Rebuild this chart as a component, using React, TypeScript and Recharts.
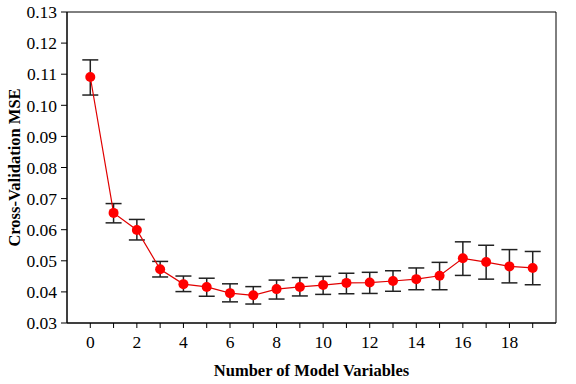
import React from 'react';
import { ComposedChart, Line, XAxis, YAxis, ErrorBar, ReferenceArea } from 'recharts';

const variables = [0, 1, 2, 3, 4, 5, 6, 7, 8, 9, 10, 11, 12, 13, 14, 15, 16, 17, 18, 19];
const mse = [0.1091, 0.0654, 0.0599, 0.0473, 0.0425, 0.0416, 0.0396, 0.0389, 0.0409, 0.0416, 0.0422, 0.0429, 0.0430, 0.0435, 0.0441, 0.0452, 0.0508, 0.0496, 0.0482, 0.0477];
const upper = [0.1146, 0.0684, 0.0633, 0.0498, 0.0451, 0.0444, 0.0426, 0.0417, 0.0438, 0.0446, 0.0450, 0.0460, 0.0463, 0.0468, 0.0477, 0.0495, 0.0561, 0.0550, 0.0536, 0.0530];
const lower = [0.1033, 0.0622, 0.0567, 0.0448, 0.0401, 0.0386, 0.0368, 0.0361, 0.0377, 0.0387, 0.0392, 0.0394, 0.0395, 0.0402, 0.0407, 0.0407, 0.0453, 0.0441, 0.0429, 0.0423];
const yTicks = [0.03, 0.04, 0.05, 0.06, 0.07, 0.08, 0.09, 0.10, 0.11, 0.12, 0.13];

const data = variables.map((v, i) => ({
  n: v,
  mse: mse[i],
  err: [mse[i] - lower[i], upper[i] - mse[i]],
}));

const font = '"Liberation Serif", "Times New Roman", serif';

export default function App() {
  return (
    <div style={{ position: 'absolute', left: 0, top: 0, width: 576, height: 384, background: '#fff' }}>
      <ComposedChart width={576} height={384} data={data} margin={{ top: 12, right: 20, bottom: 6, left: 0 }}>
        <XAxis
          dataKey="n"
          type="number"
          domain={[-1, 20]}
          ticks={variables}
          interval={0}
          tickFormatter={(v: number) => (v % 2 === 0 ? String(v) : '')}
          tick={{ fontFamily: font, fontSize: 17.5, fill: '#000' }}
          tickLine={{ stroke: '#000' }}
          axisLine={{ stroke: '#000' }}
          tickSize={5}
          tickMargin={8}
          height={55}
          label={{ value: 'Number of Model Variables', position: 'insideBottom', offset: 2, style: { fontFamily: font, fontSize: 16.5, fontWeight: 'bold', fill: '#000' } }}
        />
        <YAxis
          type="number"
          domain={[0.03, 0.13]}
          ticks={yTicks}
          interval={0}
          tickFormatter={(v: number) => v.toFixed(2)}
          tick={{ fontFamily: font, fontSize: 17.5, fill: '#000' }}
          tickLine={{ stroke: '#000' }}
          axisLine={{ stroke: '#000' }}
          tickSize={6}
          tickMargin={4}
          width={67}
          label={{ value: 'Cross-Validation MSE', angle: -90, position: 'insideLeft', offset: 14, dy: 0, style: { fontFamily: font, fontSize: 16.5, fontWeight: 'bold', fill: '#000', textAnchor: 'middle' } }}
        />
        <ReferenceArea x1={-1} x2={20} y1={0.03} y2={0.13} fill="none" stroke="#000" strokeWidth={1} ifOverflow="visible" />
        <Line
          dataKey="mse"
          stroke="#e00000"
          strokeWidth={1.2}
          dot={{ r: 5, fill: '#ff0000', stroke: '#ff0000', strokeWidth: 0 }}
          isAnimationActive={false}
        >
          <ErrorBar dataKey="err" direction="y" width={8} stroke="#222" strokeWidth={1.5} />
        </Line>
      </ComposedChart>
    </div>
  );
}
